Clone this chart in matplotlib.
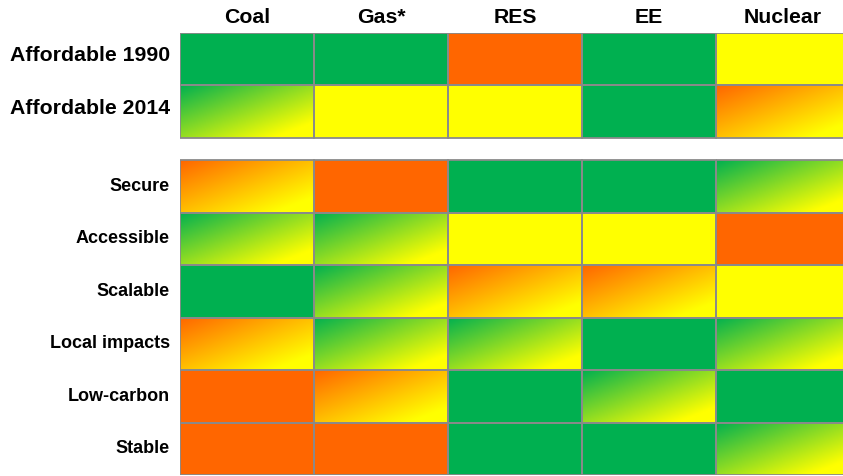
import numpy as np
import matplotlib
matplotlib.use("Agg")
import matplotlib.pyplot as plt
from matplotlib.patches import Rectangle

# Ratings grid: G = green, O = orange, Y = yellow,
# GY / OY = diagonal gradient from green / orange into yellow
columns = ["Coal", "Gas*", "RES", "EE", "Nuclear"]

top_rows = ["Affordable 1990", "Affordable 2014"]
top_ratings = [
    ["G", "G", "O", "G", "Y"],
    ["GY", "Y", "Y", "G", "OY"],
]

bottom_rows = ["Secure", "Accessible", "Scalable", "Local impacts", "Low-carbon", "Stable"]
bottom_ratings = [
    ["OY", "O", "G", "G", "GY"],
    ["GY", "GY", "Y", "Y", "O"],
    ["G", "GY", "OY", "OY", "Y"],
    ["OY", "GY", "GY", "G", "GY"],
    ["O", "OY", "G", "GY", "G"],
    ["O", "O", "G", "G", "GY"],
]

GREEN = np.array([0, 176, 80]) / 255
ORANGE = np.array([255, 102, 0]) / 255
YELLOW = np.array([255, 255, 0]) / 255
SOLID = {"G": GREEN, "O": ORANGE, "Y": YELLOW}
START = {"GY": GREEN, "OY": ORANGE}
EDGE = "#8a8a8a"

GAP = 0.42  # space between the two blocks, in row units

W, H = 843, 476
fig = plt.figure(figsize=(W / 100, H / 100), dpi=100)
# table area: cells 134 px wide, rows 52.5 px tall; last column runs past the right edge
n_units = len(top_rows) + GAP + len(bottom_rows)
ax = fig.add_axes([180 / W, 1 - 475 / H, 5 * 134 / W, (475 - 33) / H])
ax.set_xlim(0, len(columns))
ax.set_ylim(n_units, 0)
ax.axis("off")

ny, nx = 60, 150
u = np.linspace(0, 1, nx)[None, :]
v = np.linspace(0, 1, ny)[:, None]
t = np.clip((u + v) / 2 / 0.85, 0, 1)[..., None]


def draw_cell(col, row_y, code):
    if code in SOLID:
        ax.add_patch(Rectangle((col, row_y), 1, 1, facecolor=SOLID[code],
                               edgecolor="none", zorder=1))
    else:
        img = START[code] * (1 - t) + YELLOW * t
        ax.imshow(img, extent=(col, col + 1, row_y + 1, row_y),
                  aspect="auto", interpolation="bilinear", zorder=1)
    ax.add_patch(Rectangle((col, row_y), 1, 1, facecolor="none",
                           edgecolor=EDGE, linewidth=1.3, zorder=2))


for r, (name, ratings) in enumerate(zip(top_rows, top_ratings)):
    for c, code in enumerate(ratings):
        draw_cell(c, r, code)
    ax.text(-0.075, r + 0.43, name, ha="right", va="center",
            fontsize=15.3, fontweight="bold", family="Liberation Sans")

offset = len(top_rows) + GAP
for r, (name, ratings) in enumerate(zip(bottom_rows, bottom_ratings)):
    for c, code in enumerate(ratings):
        draw_cell(c, offset + r, code)
    ax.text(-0.075, offset + r + 0.5, name, ha="right", va="center",
            fontsize=13, fontweight="bold", family="Liberation Sans")

for c, name in enumerate(columns):
    ax.text(c + 0.5, -0.29, name, ha="center", va="center",
            fontsize=15.3, fontweight="bold", family="Liberation Sans")

ax.set_xlim(0, len(columns))
ax.set_ylim(n_units, 0)
fig.savefig("out.png", dpi=100, facecolor="white")
